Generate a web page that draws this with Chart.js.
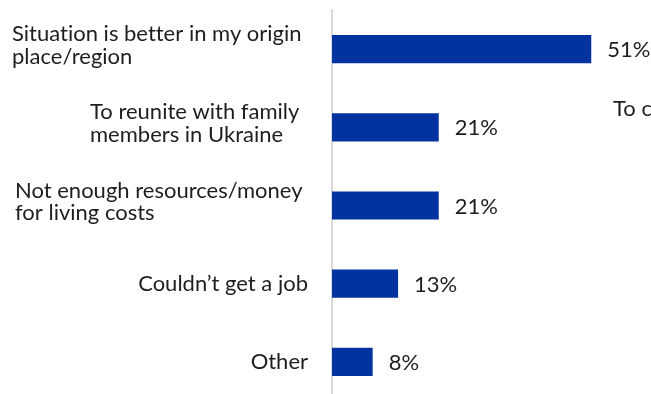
<!DOCTYPE html>
<html>
<head>
<meta charset="utf-8">
<script src="https://cdn.jsdelivr.net/npm/chart.js@4"></script>
<style>
  html, body { margin: 0; padding: 0; background: #fff; overflow: hidden; }
  canvas { display: block; }
</style>
</head>
<body>
<canvas id="reasonsChart" width="651" height="410"></canvas>
<script>
// reasons for returning, one entry per bar (multi-line labels as arrays)
const reasons = [
  ['Situation is better in my origin', 'place/region'],
  ['To reunite with family', 'members in Ukraine'],
  ['Not enough resources/money', 'for living costs'],
  ['Couldn’t get a job'],
  ['Other']
];
const shares = [51, 21, 21, 13, 8];
const sideNote = 'To c';

const FONT = '22px Lato';
const TEXT_COLOR = '#1e1e1e';

// where each category label sits left of the axis
const labelLayout = [
  { x: 12, align: 'left' },
  { x: 90, align: 'left' },
  { x: 15, align: 'left' },
  { x: 308, align: 'right' },
  { x: 308, align: 'right' }
];

const textPlugin = {
  id: 'barTexts',
  afterDraw(chart) {
    const ctx = chart.ctx;
    const yScale = chart.scales.y;
    ctx.save();
    ctx.font = FONT;
    ctx.fillStyle = TEXT_COLOR;
    ctx.textBaseline = 'alphabetic';
    // no "ti"/"fi" ligatures
    ctx.textRendering = 'optimizeSpeed';

    reasons.forEach((lines, i) => {
      const yc = yScale.getPixelForValue(i);
      const pos = labelLayout[i];
      ctx.textAlign = pos.align;
      if (lines.length === 1) {
        ctx.fillText(lines[0], pos.x, yc + 7.5);
      } else {
        ctx.fillText(lines[0], pos.x, yc - 8);
        ctx.fillText(lines[1], pos.x, yc + 14.5);
      }
    });

    // value at the end of each bar
    ctx.textAlign = 'left';
    chart.getDatasetMeta(0).data.forEach((bar, i) => {
      ctx.fillText(shares[i] + '%', bar.x + 16, bar.y + 8);
    });

    ctx.fillText(sideNote, 613, 116);
    ctx.restore();
  }
};

function draw() {
  const ctx = document.getElementById('reasonsChart').getContext('2d');
  new Chart(ctx, {
    type: 'bar',
    data: {
      labels: reasons,
      datasets: [{
        data: shares,
        backgroundColor: '#0033a0',
        barPercentage: 0.36,
        categoryPercentage: 1
      }]
    },
    options: {
      indexAxis: 'y',
      responsive: false,
      animation: false,
      layout: {
        padding: { left: 332, right: 14, top: 10, bottom: 9 }
      },
      plugins: {
        legend: { display: false },
        tooltip: { enabled: false }
      },
      scales: {
        x: {
          display: false,
          min: 0,
          max: 60
        },
        y: {
          ticks: { display: false },
          grid: { display: false, drawTicks: false },
          border: { color: '#d9d9d9', width: 2 }
        }
      }
    },
    plugins: [textPlugin]
  });
}

document.fonts.load(FONT).then(draw, draw);
</script>
</body>
</html>
